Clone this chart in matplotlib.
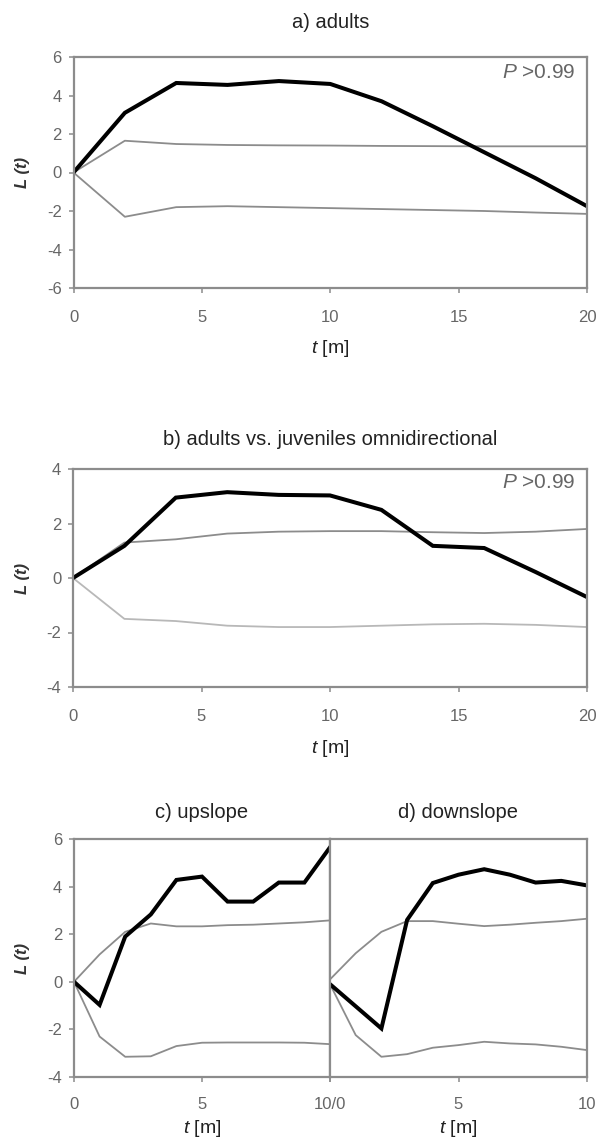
import matplotlib
matplotlib.use("Agg")
import matplotlib.pyplot as plt

plt.rcParams['font.family'] = ['Liberation Sans', 'DejaVu Sans']
plt.rcParams['axes.unicode_minus'] = False
plt.rcParams['mathtext.fontset'] = 'custom'
plt.rcParams['mathtext.rm'] = 'Liberation Sans'
plt.rcParams['mathtext.it'] = 'Liberation Sans:italic'
plt.rcParams['mathtext.bf'] = 'Liberation Sans:bold'

# Panel a) adults
t_a = [0, 2, 4, 6, 8, 10, 12, 14, 16, 18, 20]
obs_a = [0, 3.1, 4.65, 4.55, 4.75, 4.6, 3.7, 2.4, 1.05, -0.3, -1.75]
up_a = [0, 1.65, 1.48, 1.43, 1.41, 1.4, 1.38, 1.37, 1.36, 1.36, 1.36]
lo_a = [0, -2.3, -1.8, -1.75, -1.8, -1.85, -1.9, -1.95, -2.0, -2.08, -2.15]

# Panel b) adults vs. juveniles omnidirectional
t_b = [0, 2, 4, 6, 8, 10, 12, 14, 16, 18, 20]
obs_b = [0, 1.18, 2.95, 3.15, 3.05, 3.03, 2.5, 1.18, 1.1, 0.22, -0.7]
up_b = [0, 1.3, 1.42, 1.63, 1.7, 1.72, 1.72, 1.68, 1.65, 1.7, 1.8]
lo_b = [0, -1.5, -1.58, -1.75, -1.8, -1.8, -1.75, -1.7, -1.68, -1.72, -1.8]

# Panel c) upslope
t_c = [0, 1, 2, 3, 4, 5, 6, 7, 8, 9, 10]
obs_c = [0, -0.97, 1.9, 2.83, 4.28, 4.42, 3.37, 3.37, 4.17, 4.17, 5.65]
up_c = [0, 1.15, 2.1, 2.45, 2.33, 2.33, 2.38, 2.4, 2.45, 2.5, 2.58]
lo_c = [0, -2.3, -3.15, -3.13, -2.7, -2.56, -2.55, -2.55, -2.55, -2.56, -2.62]

# Panel d) downslope
t_d = [0, 1, 2, 3, 4, 5, 6, 7, 8, 9, 10]
obs_d = [-0.1, -1.03, -1.96, 2.6, 4.15, 4.5, 4.73, 4.5, 4.17, 4.24, 4.05]
up_d = [0.1, 1.2, 2.1, 2.55, 2.55, 2.44, 2.34, 2.4, 2.48, 2.55, 2.65]
lo_d = [-0.1, -2.24, -3.15, -3.04, -2.77, -2.66, -2.52, -2.59, -2.63, -2.73, -2.87]

W, H = 600, 1143
fig = plt.figure(figsize=(6, 11.43), dpi=100)

def ax_at(l, r, t, b):
    return fig.add_axes([l / W, 1 - b / H, (r - l) / W, (b - t) / H])

SPINE = '#8c8c8c'
TICKC = '#666666'
TXT = '#222222'

def style(ax):
    for s in ax.spines.values():
        s.set_color(SPINE)
        s.set_linewidth(1.6)
    ax.tick_params(axis='both', direction='out', length=3.5, width=1.1,
                   color=SPINE, labelcolor=TICKC, labelsize=12)
    ax.tick_params(axis='x', pad=12.5)
    ax.tick_params(axis='y', pad=5)

def draw(ax, t, obs, up, lo, upc='#8c8c8c', loc='#8c8c8c'):
    ax.plot(t, up, color=upc, lw=1.3)
    ax.plot(t, lo, color=loc, lw=1.3)
    ax.plot(t, obs, color='black', lw=2.9, solid_joinstyle='miter')

def ylab(ycenter):
    fig.text(22 / W, 1 - ycenter / H, 'L (t)', rotation=90,
             ha='center', va='center', fontsize=12, fontweight='bold',
             fontstyle='italic', color='#333333')

def plab(ax, y):
    ax.text(0.977, y, r'$P$ >0.99', transform=ax.transAxes, ha='right', va='center',
            fontsize=15, color='#666666')

# a)
ax = ax_at(73.5, 587, 57, 288)
draw(ax, t_a, obs_a, up_a, lo_a)
ax.set_xlim(0, 20); ax.set_ylim(-6, 6)
ax.set_xticks([0, 5, 10, 15, 20]); ax.set_yticks(range(-6, 7, 2))
style(ax)
ax.set_xlabel(r'$t$ [m]', fontsize=14, color=TXT, labelpad=9)
ax.set_title('a) adults', fontsize=14.5, color=TXT, pad=21)
plab(ax, 1 - 16 / 231)
ylab((57 + 288) / 2)

# b)
ax = ax_at(73, 587, 469, 687)
draw(ax, t_b, obs_b, up_b, lo_b, upc='#8c8c8c', loc='#b8b8b8')
ax.set_xlim(0, 20); ax.set_ylim(-4, 4)
ax.set_xticks([0, 5, 10, 15, 20]); ax.set_yticks(range(-4, 5, 2))
style(ax)
ax.set_xlabel(r'$t$ [m]', fontsize=14, color=TXT, labelpad=10)
ax.set_title('b) adults vs. juveniles omnidirectional', fontsize=14.5, color=TXT, pad=17)
plab(ax, 1 - 14 / 218)
ylab((469 + 687) / 2)

# c)
ax = ax_at(74, 330, 839, 1077)
draw(ax, t_c, obs_c, up_c, lo_c)
ax.set_xlim(0, 10); ax.set_ylim(-4, 6)
ax.set_xticks([0, 5, 10]); ax.set_xticklabels(['0', '5', '10/0'])
ax.set_yticks(range(-4, 7, 2))
style(ax)
ax.tick_params(axis='x', pad=11)
ax.set_xlabel(r'$t$ [m]', fontsize=14, color=TXT, labelpad=4)
ax.set_title('c) upslope', fontsize=14.5, color=TXT, pad=15)
ylab((839 + 1077) / 2)

# d)
ax = ax_at(330, 587, 839, 1077)
draw(ax, t_d, obs_d, up_d, lo_d)
ax.set_xlim(0, 10); ax.set_ylim(-4, 6)
ax.set_xticks([0, 5, 10]); ax.set_xticklabels(['', '5', '10'])
ax.set_yticks([])
style(ax)
ax.tick_params(axis='x', pad=11)
ax.set_xlabel(r'$t$ [m]', fontsize=14, color=TXT, labelpad=4)
ax.set_title('d) downslope', fontsize=14.5, color=TXT, pad=15)

fig.savefig('out.png', dpi=100)
